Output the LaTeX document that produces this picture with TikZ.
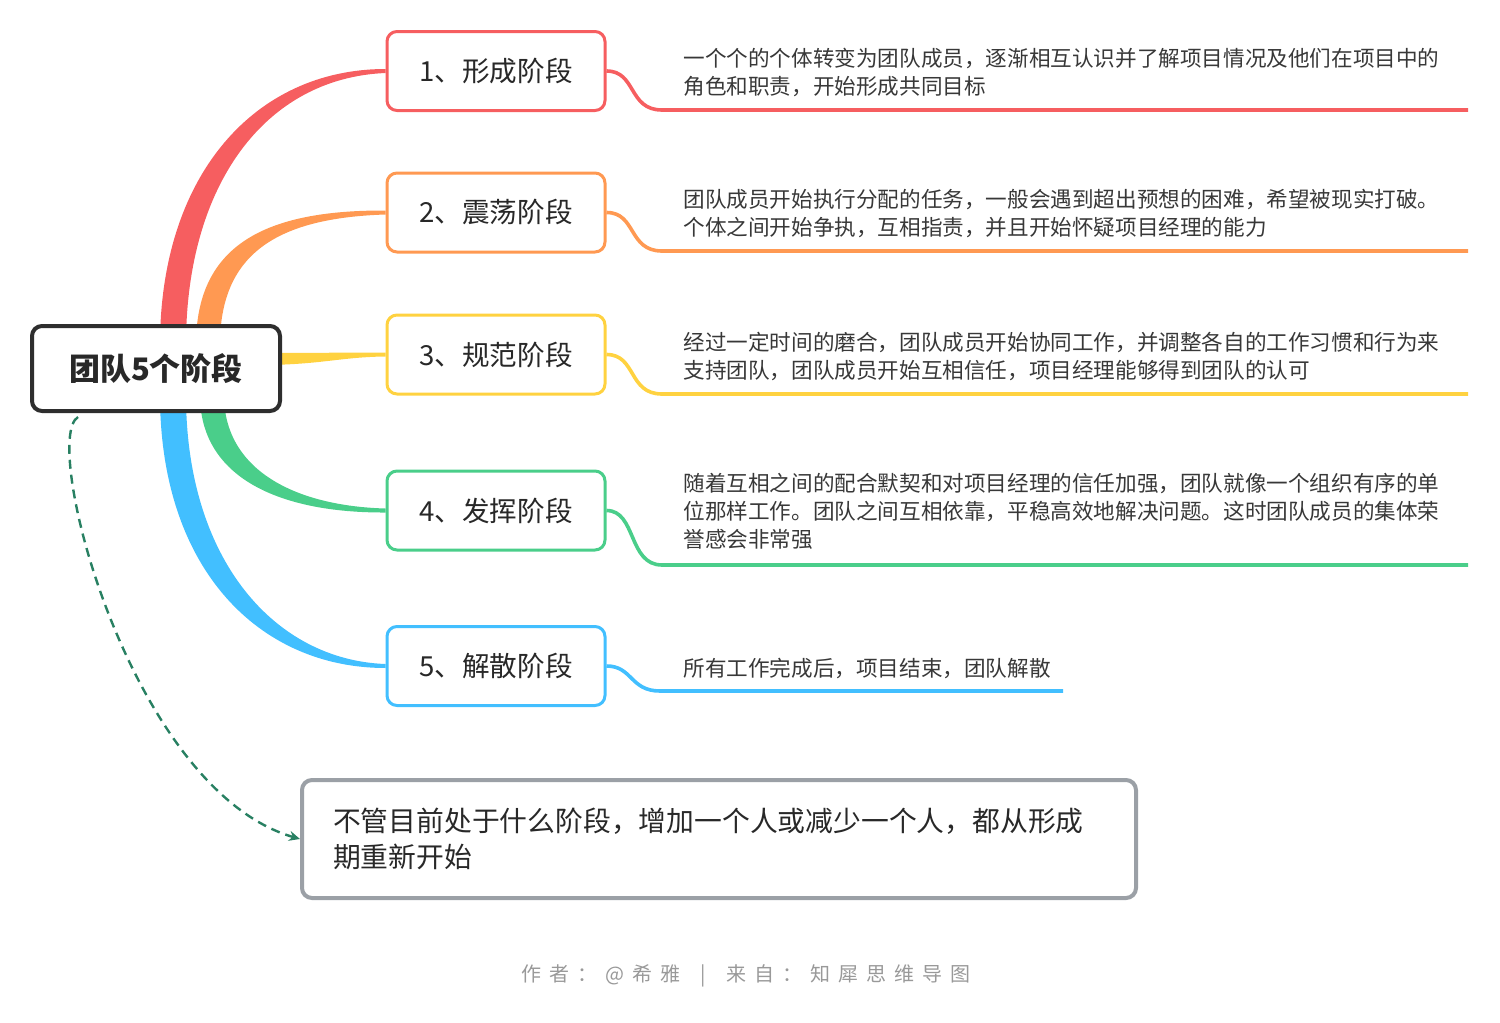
\documentclass[tikz,border=0pt]{standalone}
\usepackage{fontspec}
\setmainfont{Noto Sans CJK SC}
\usetikzlibrary{backgrounds,calc,arrows.meta}
\definecolor{cred}{RGB}{246,94,96}
\definecolor{corange}{RGB}{255,153,82}
\definecolor{cyellow}{RGB}{255,210,64}
\definecolor{cgreen}{RGB}{74,206,138}
\definecolor{cblue}{RGB}{66,191,255}
\definecolor{cdash}{RGB}{40,128,98}
\definecolor{cnote}{RGB}{155,160,166}
\definecolor{ctext}{RGB}{40,40,40}
\newcommand\fsp{\kern4pt}
\begin{document}
\begin{tikzpicture}[x=0.5pt,y=-0.5pt,
  stagebox/.style={draw=#1, line width=1.5pt, rounded corners=5pt, fill=white,
    minimum width=109pt, minimum height=39.5pt, inner sep=0pt,
    font=\fontsize{13.8}{16}\selectfont, text=ctext},
  rootbox/.style={draw=black!82, line width=2pt, rounded corners=5pt, fill=white,
    minimum width=124pt, minimum height=42.5pt, inner sep=0pt,
    font=\fontsize{15.5}{18}\selectfont\bfseries, text=ctext},
  notebox/.style={draw=cnote, line width=2pt, rounded corners=5pt, fill=white,
    minimum height=59pt, inner xsep=15.5pt, inner ysep=0pt, text width=386pt, align=left,
    font=\fontsize{13.9}{18}\selectfont, text=ctext},
  desc/.style={anchor=west, align=left, inner sep=0pt,
    font=\fontsize{10.8}{14}\selectfont, text=black!78},
  twig/.style={line width=1.8pt, draw=#1},
  dasharrow/.style={draw=cdash, line width=1.2pt, dash pattern=on 4.5pt off 3pt,
    -{Stealth[length=5.5pt,width=5pt]}},
  footer/.style={font=\fontsize{10}{12}\selectfont, text=black!40, inner sep=0pt}
]
\useasboundingbox (0,0) rectangle (1500,1023);

% nodes
\node[rootbox] (root) at (156,368.5) {团队5个阶段};
\node[stagebox=cred] (s1) at (496,71) {1、形成阶段};
\node[stagebox=corange] (s2) at (496,212.5) {2、震荡阶段};
\node[stagebox=cyellow] (s3) at (496,354.5) {3、规范阶段};
\node[stagebox=cgreen] (s4) at (496,510.5) {4、发挥阶段};
\node[stagebox=cblue] (s5) at (496,666) {5、解散阶段};
\node[notebox] (note) at (719,839) {不管目前处于什么阶段，增加一个人或减少一个人，都从形成\\期重新开始};

\node[desc] (d1) at (683,72) {一个个的个体转变为团队成员，逐渐相互认识并了解项目情况及他们在项目中的\\角色和职责，开始形成共同目标};
\node[desc] (d2) at (683,214) {团队成员开始执行分配的任务，一般会遇到超出预想的困难，希望被现实打破。\\个体之间开始争执，互相指责，并且开始怀疑项目经理的能力};
\node[desc] (d3) at (683,356) {经过一定时间的磨合，团队成员开始协同工作，并调整各自的工作习惯和行为来\\支持团队，团队成员开始互相信任，项目经理能够得到团队的认可};
\node[desc] (d4) at (683,511) {随着互相之间的配合默契和对项目经理的信任加强，团队就像一个组织有序的单\\位那样工作。团队之间互相依靠，平稳高效地解决问题。这时团队成员的集体荣\\誉感会非常强};
\node[desc] (d5) at (683,668) {所有工作完成后，项目结束，团队解散};

\node[footer] (ft) at (746,976) {作\fsp 者\fsp ：\fsp @\fsp 希\fsp 雅\kern10pt|\kern10pt 来\fsp 自\fsp ：\fsp 知\fsp 犀\fsp 思\fsp 维\fsp 导\fsp 图};

% underline end points
\coordinate (k1) at (662,110);  \coordinate (e1) at (1468,110);
\coordinate (k2) at (662,251);  \coordinate (e2) at (1468,251);
\coordinate (k3) at (662,394);  \coordinate (e3) at (1468,394);
\coordinate (k4) at (662,565);  \coordinate (e4) at (1468,565);
\coordinate (k5) at (660,691);  \coordinate (e5) at (1063,691);

\begin{pgfonlayer}{background}
% tapered main branches
\fill[cred] (160,345) .. controls (160,175) and (255,69) .. ($(s1.west)+(0,-2)$)
  -- ($(s1.west)+(0,2)$) .. controls (265,78) and (186,185) .. (186,345) -- cycle;
\fill[corange] (196,345) .. controls (196,245) and (265,210) .. ($(s2.west)+(0,-2)$)
  -- ($(s2.west)+(0,2)$) .. controls (275,218) and (220,255) .. (220,345) -- cycle;
\fill[cyellow] (260,353) .. controls (320,353) and (340,352.5) .. ($(s3.west)+(0,-2)$)
  -- ($(s3.west)+(0,2)$) .. controls (340,357) and (320,365) .. (260,365) -- cycle;
\fill[cgreen] (200,395) .. controls (200,478) and (280,513) .. ($(s4.west)+(0,2)$)
  -- ($(s4.west)+(0,-2)$) .. controls (295,506) and (224,470) .. (224,395) -- cycle;
\fill[cblue] (160,395) .. controls (160,570) and (260,668) .. ($(s5.west)+(0,2)$)
  -- ($(s5.west)+(0,-2)$) .. controls (275,660) and (186,560) .. (186,395) -- cycle;
\end{pgfonlayer}

% underlines
\draw[twig=cred] (s1.east) .. controls +(30,0) and +(-34,0) .. (k1) -- (e1);
\draw[twig=corange] (s2.east) .. controls +(30,0) and +(-34,0) .. (k2) -- (e2);
\draw[twig=cyellow] (s3.east) .. controls +(30,0) and +(-34,0) .. (k3) -- (e3);
\draw[twig=cgreen] (s4.east) .. controls +(30,0) and +(-34,0) .. (k4) -- (e4);
\draw[twig=cblue] (s5.east) .. controls +(26,0) and +(-30,0) .. (k5) -- (e5);

% dashed relation
\draw[dasharrow] ($(root.south west)+(48,4)$) .. controls (40,440) and (130,790) .. (note.west);
\end{tikzpicture}
\end{document}
